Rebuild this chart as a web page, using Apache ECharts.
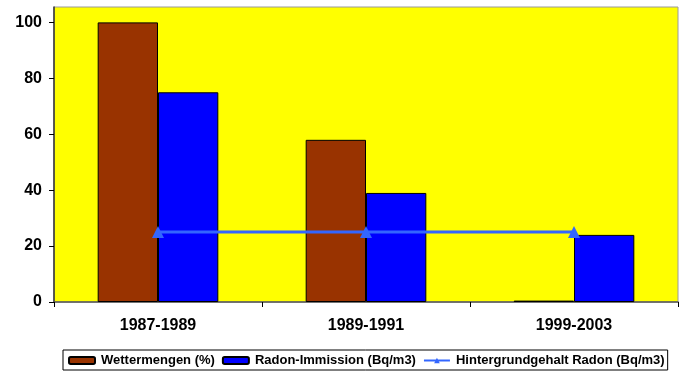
<!DOCTYPE html>
<html>
<head>
<meta charset="utf-8">
<script src="https://cdn.jsdelivr.net/npm/echarts@6/dist/echarts.min.js"></script>
<style>
  html, body { margin: 0; padding: 0; background: #fff; }
  #chart { width: 686px; height: 372px; }
</style>
</head>
<body>
<div id="chart"></div>
<script>
// Zeiträume und Messwerte
const periods = ['1987-1989', '1989-1991', '1999-2003'];
const wettermengen = [100, 58, 0.5];
const radonImmission = [75, 39, 24];
const hintergrundRadon = [25, 25, 25];
const yTicks = [0, 20, 40, 60, 80, 100];

const chart = echarts.init(document.getElementById('chart'));
const font = '"Liberation Sans", Arial, sans-serif';

chart.setOption({
  animation: false,
  textStyle: { fontFamily: font },
  grid: {
    left: 54, right: 8, top: 7, bottom: 70,
    show: true,
    backgroundColor: '#ffff00',
    borderColor: '#9a9a9a',
    borderWidth: 1
  },
  legend: {
    left: 63,
    top: 350,
    itemGap: 7,
    itemWidth: 26,
    itemHeight: 7,
    padding: [4, 3, 3, 5],
    borderColor: '#000',
    borderWidth: 1,
    textStyle: { fontSize: 13, fontWeight: 'bold', color: '#000', fontFamily: font, padding: [0, 0, 0, 1] }
  },
  xAxis: {
    type: 'category',
    data: periods,
    axisLine: { lineStyle: { color: '#555', width: 1.5 } },
    axisTick: { show: true, length: 5, lineStyle: { color: '#000' } },
    axisLabel: { fontSize: 16, fontWeight: 'bold', color: '#000', margin: 16 }
  },
  yAxis: {
    type: 'value',
    min: 0,
    max: 105.5,
    splitLine: { show: false },
    axisLine: { show: true, lineStyle: { color: '#333', width: 1.5 } },
    axisTick: { show: true, length: 5, customValues: yTicks, lineStyle: { color: '#000' } },
    axisLabel: { customValues: yTicks, fontSize: 16, fontWeight: 'bold', color: '#000', margin: 12 }
  },
  series: [
    {
      name: 'Wettermengen (%)',
      type: 'bar',
      data: wettermengen,
      barGap: '0%',
      barCategoryGap: '42%',
      itemStyle: { color: '#993300', borderColor: '#000', borderWidth: 1 }
    },
    {
      name: 'Radon-Immission (Bq/m3)',
      type: 'bar',
      data: radonImmission,
      itemStyle: { color: '#0000ff', borderColor: '#000', borderWidth: 1 }
    },
    {
      name: 'Hintergrundgehalt Radon (Bq/m3)',
      type: 'line',
      data: hintergrundRadon,
      symbol: 'triangle',
      symbolSize: 12,
      lineStyle: { color: '#3366ff', width: 3 },
      itemStyle: { color: '#3366ff' }
    }
  ]
});
</script>
</body>
</html>
